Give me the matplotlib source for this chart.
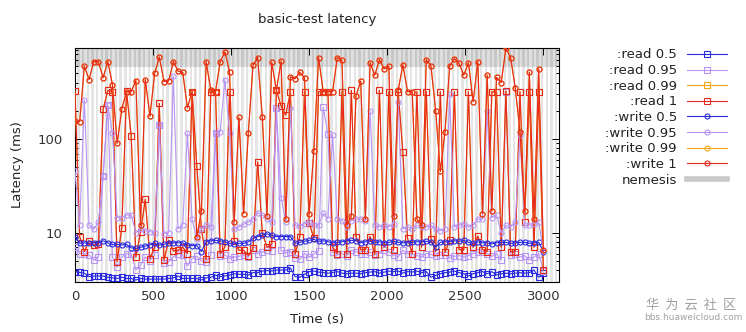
import matplotlib
matplotlib.use('Agg')
import matplotlib.pyplot as plt
from matplotlib.lines import Line2D
from matplotlib.ticker import FixedLocator, FixedFormatter, LogLocator, NullFormatter

plt.rcParams['font.family'] = ['DejaVu Sans']

times = [0, 30, 60, 90, 120, 150, 180, 210, 240, 270,
         300, 330, 360, 390, 420, 450, 480, 510, 540, 570,
         600, 630, 660, 690, 720, 750, 780, 810, 840, 870,
         900, 930, 960, 990, 1020, 1050, 1080, 1110, 1140, 1170,
         1200, 1230, 1260, 1290, 1320, 1350, 1380, 1410, 1440, 1470,
         1500, 1530, 1560, 1590, 1620, 1650, 1680, 1710, 1740, 1770,
         1800, 1830, 1860, 1890, 1920, 1950, 1980, 2010, 2040, 2070,
         2100, 2130, 2160, 2190, 2220, 2250, 2280, 2310, 2340, 2370,
         2400, 2430, 2460, 2490, 2520, 2550, 2580, 2610, 2640, 2670,
         2700, 2730, 2760, 2790, 2820, 2850, 2880, 2910, 2940, 2970,
         3000]

read_05 = [3.85, 3.77, 3.7, 3.4, 3.45, 3.45, 3.45, 3.35, 3.3, 3.25,
           3.35, 3.25, 3.25, 3.13, 3.25, 3.2, 3.2, 3.2, 3.2, 3.2,
           3.25, 3.3, 3.45, 3.25, 3.25, 3.25, 3.25, 3.13, 3.3, 3.34,
           3.53, 3.4, 3.45, 3.53, 3.65, 3.6, 3.6, 3.53, 3.75, 3.75,
           3.9, 3.95, 3.9, 4.0, 4.0, 4.0, 4.2, 3.4, 3.35, 3.6,
           3.85, 3.9, 3.8, 3.75, 3.7, 3.75, 3.85, 3.7, 3.65, 3.7,
           3.7, 3.65, 3.75, 3.8, 3.85, 3.7, 3.8, 3.9, 3.85, 3.9,
           3.7, 3.85, 3.8, 3.9, 3.75, 3.85, 3.35, 3.5, 3.65, 3.75,
           3.8, 3.9, 3.75, 3.65, 3.45, 3.65, 3.75, 3.85, 3.65, 3.84,
           3.55, 3.65, 3.7, 3.65, 3.7, 3.75, 3.7, 3.75, 4.0, 3.35,
           3.7]

read_095 = [7, 6.0, 6.0, 5.8, 5.1, 5.5, 40, 230, 5.5, 4.3,
            5.5, 6.0, 5.9, 4.0, 4.5, 5.5, 5.0, 5.8, 140, 4.8,
            4.9, 5.5, 6.0, 5.8, 4.4, 5.3, 5.6, 5.0, 4.9, 5.8,
            115, 5.6, 5.8, 5.3, 5.5, 5.6, 5.8, 5.5, 6.6, 6.0,
            6.2, 6.6, 6.4, 212, 6.5, 6.1, 6.3, 5.4, 5.2, 6.0,
            5.5, 5.9, 6.4, 218, 112, 6.2, 5.8, 6.0, 5.6, 6.5,
            6.3, 6.0, 5.9, 6.2, 5.8, 6.0, 6.5, 6.3, 5.8, 5.5,
            6.5, 6.0, 5.9, 5.7, 5.5, 6.0, 5.9, 5.6, 5.8, 5.8,
            5.4, 5.6, 5.7, 5.5, 5.7, 6.0, 6.2, 6.3, 6.0, 5.6,
            6.0, 5.1, 320, 5.8, 5.9, 5.5, 5.7, 5.1, 5.5, 6.0,
            3.9]

read_099 = [323, 9.1, 6.3, 8.2, 7.4, 7.5, 207, 330, 320, 4.9,
            11.3, 323, 108, 5.5, 10.2, 22.7, 5.3, 7, 240, 5.1,
            8.3, 6.4, 6.5, 7, 6, 320, 52, 10.9, 5.2, 320,
            320, 6, 7, 320, 8.2, 6.5, 6.5, 5.7, 6.8, 57,
            9.9, 7, 7.6, 330, 225, 180, 320, 5.9, 9.1, 320,
            12.7, 8.7, 320, 320, 320, 7, 6.0, 320, 5.9, 330,
            9.1, 6.6, 6.6, 9.1, 5.9, 330, 7, 320, 6.5, 320,
            72, 8.7, 6.0, 320, 7, 320, 8.5, 6.3, 320, 6.2,
            8.3, 320, 6.6, 6.5, 320, 7, 9.2, 6.6, 6.3, 320,
            315, 7, 325, 6.3, 6.3, 320, 13, 320, 7, 320,
            4.0]

read_1 = [323, 9.1, 6.3, 8.2, 7.4, 7.5, 207, 330, 320, 4.9,
          11.3, 323, 108, 5.5, 10.2, 22.7, 5.3, 7, 240, 5.1,
          8.3, 6.4, 6.5, 7, 6, 320, 52, 10.9, 5.2, 320,
          320, 6, 7, 320, 8.2, 6.5, 6.5, 5.7, 6.8, 57,
          9.9, 7, 7.6, 330, 225, 180, 320, 5.9, 9.1, 320,
          12.7, 8.7, 320, 320, 320, 7, 6.0, 320, 5.9, 330,
          9.1, 6.6, 6.6, 9.1, 5.9, 330, 7, 320, 6.5, 320,
          72, 8.7, 6.0, 320, 7, 320, 8.5, 6.3, 320, 6.2,
          8.3, 320, 6.6, 6.5, 320, 7, 9.2, 6.6, 6.3, 320,
          315, 7, 325, 6.3, 6.3, 320, 13, 320, 7, 320,
          4.0]

write_05 = [9.1, 7.7, 7.8, 7.7, 7.8, 7.8, 8.2, 7.8, 7.5, 7.5,
            7.4, 7.5, 6.9, 6.8, 7.0, 7.2, 7.4, 7.7, 7.4, 7.5,
            7.8, 7.8, 7.8, 7.8, 7.4, 7.3, 7.3, 6.3, 8.0, 8.2,
            8.3, 8.2, 8.0, 7.7, 7.6, 7.7, 7.7, 8.0, 8.7, 9.1,
            9.4, 9.7, 9.4, 9.1, 9.1, 9.1, 9.1, 7.7, 7.9, 8.1,
            8.3, 8.5, 8.1, 8.2, 8.0, 7.8, 7.9, 8.0, 8.2, 8.3,
            8.2, 7.8, 8.0, 8.1, 7.9, 8.0, 7.8, 7.9, 8.1, 7.9,
            7.8, 7.8, 7.9, 8.0, 8.0, 8.1, 8.0, 7.0, 7.9, 8.0,
            8.0, 8.2, 8.1, 8.3, 7.9, 7.7, 8.0, 7.8, 7.8, 7.6,
            7.8, 7.9, 7.9, 7.7, 7.8, 7.9, 7.9, 7.7, 7.8, 7.9,
            6.3]

write_095 = [45, 12.1, 260, 12.1, 10.9, 13, 40, 230, 115, 14.5,
             14.5, 15.5, 15.5, 10, 11, 10.5, 10.3, 10, 140, 9.8,
             10, 470, 11, 12, 115, 13.9, 8.5, 11, 12, 11.5,
             115, 120, 430, 115, 10.9, 11.5, 12.3, 13, 14, 16.3,
             15.5, 14, 13, 210, 23.6, 13, 213, 12, 11.8, 12.5,
             13, 12, 12, 16.1, 14, 110, 14, 13.5, 11.5, 13.5,
             14, 14, 13.5, 200, 12, 11.5, 12, 11.5, 12.5, 250,
             11, 11.5, 11, 12, 11.5, 11.5, 12, 11, 10.5, 11,
             300, 11.5, 12, 12.5, 11.5, 12, 14, 13.9, 200, 14.5,
             15.5, 9.9, 12, 11.5, 13, 110, 12, 12, 12.5, 13,
             6.4]

write_099 = [155, 153, 600, 430, 670, 670, 450, 670, 380, 90,
             210, 320, 320, 420, 12, 430, 175, 500, 750, 410,
             415, 670, 530, 515, 215, 320, 9, 17, 670, 330,
             320, 670, 850, 520, 13, 170, 16, 115, 610, 740,
             170, 15, 660, 330, 680, 14, 460, 440, 515, 450,
             16, 75, 740, 320, 320, 320, 740, 690, 12, 15,
             290, 415, 14, 650, 480, 700, 560, 600, 15, 330,
             620, 320, 320, 14, 12, 700, 600, 200, 45, 120,
             600, 720, 640, 480, 650, 250, 670, 16, 480, 17,
             455, 400, 935, 740, 350, 120, 17, 515, 14, 560,
             6.5]

write_1 = [155, 153, 600, 430, 670, 670, 450, 670, 380, 90,
           210, 320, 320, 420, 12, 430, 175, 500, 750, 410,
           415, 670, 530, 515, 215, 320, 9, 17, 670, 330,
           320, 670, 850, 520, 13, 170, 16, 115, 610, 740,
           170, 15, 660, 330, 680, 14, 460, 440, 515, 450,
           16, 75, 740, 320, 320, 320, 740, 690, 12, 15,
           290, 415, 14, 650, 480, 700, 560, 600, 15, 330,
           620, 320, 320, 14, 12, 700, 600, 200, 45, 120,
           600, 720, 640, 480, 650, 250, 670, 16, 480, 17,
           455, 400, 935, 740, 350, 120, 17, 515, 14, 560,
           6.5]

nemesis_start = [15, 45, 75, 105, 135, 165, 195, 225, 255, 285,
                 315, 345, 375, 405, 435, 465, 495, 525, 555, 585,
                 615, 645, 675, 705, 735, 765, 795, 825, 855, 885,
                 915, 945, 975, 1005, 1035, 1065, 1095, 1125, 1155, 1185,
                 1215, 1245, 1275, 1305, 1335, 1365, 1395, 1425, 1455, 1485,
                 1515, 1545, 1575, 1605, 1635, 1665, 1695, 1725, 1755, 1785,
                 1815, 1845, 1875, 1905, 1935, 1965, 1995, 2025, 2055, 2085,
                 2115, 2145, 2175, 2205, 2235, 2265, 2295, 2325, 2355, 2385,
                 2415, 2445, 2475, 2505, 2535, 2565, 2595, 2625, 2655, 2685,
                 2715, 2745, 2775, 2805, 2835, 2865, 2895, 2925, 2955, 2985,
                 3015, 3045, 3075]
nemesis_stop = [30, 60, 90, 120, 150, 180, 210, 240, 270, 300,
                330, 360, 390, 420, 450, 480, 510, 540, 570, 600,
                630, 660, 690, 720, 750, 780, 810, 840, 870, 900,
                930, 960, 990, 1020, 1050, 1080, 1110, 1140, 1170, 1200,
                1230, 1260, 1290, 1320, 1350, 1380, 1410, 1440, 1470, 1500,
                1530, 1560, 1590, 1620, 1650, 1680, 1710, 1740, 1770, 1800,
                1830, 1860, 1890, 1920, 1950, 1980, 2010, 2040, 2070, 2100,
                2130, 2160, 2190, 2220, 2250, 2280, 2310, 2340, 2370, 2400,
                2430, 2460, 2490, 2520, 2550, 2580, 2610, 2640, 2670, 2700,
                2730, 2760, 2790, 2820, 2850, 2880, 2910, 2940, 2970, 3000,
                3030, 3060, 3090]
nemesis_band_low = 590

x_ticks = [0, 500, 1000, 1500, 2000, 2500, 3000]
y_ticks = [10, 100]
y_tick_labels = ['10', '100']

BLUE = '#2a2ae0'
LAV = '#b894f4'
ORANGE = '#f0a818'
RED = '#e8281c'
GRAY = '#c8c8c8'

series = [
    (':read 0.5', read_05, BLUE, 's'),
    (':read 0.95', read_095, LAV, 's'),
    (':read 0.99', read_099, ORANGE, 's'),
    (':read 1', read_1, RED, 's'),
    (':write 0.5', write_05, BLUE, 'o'),
    (':write 0.95', write_095, LAV, 'o'),
    (':write 0.99', write_099, ORANGE, 'o'),
    (':write 1', write_1, RED, 'o'),
]

fig = plt.figure(figsize=(7.46, 3.32), dpi=100)
ax = fig.add_axes([75 / 746, 1 - 282 / 332, (559 - 75) / 746, (282 - 48) / 332])
ax.set_yscale('log')
ax.set_xlim(0, 3100)
ax.set_ylim(2.98, 935)

for s, e in zip(nemesis_start, nemesis_stop):
    ax.axvspan(s, e, color='black', alpha=0.1, lw=0, zorder=0)
ax.axhspan(nemesis_band_low, 935, color='black', alpha=0.13, lw=0, zorder=0)

handles = []
for i, (label, vals, col, mk) in enumerate(series):
    ms = 4.2 if mk == 's' else 3.6
    ln, = ax.plot(times, vals, color=col, lw=0.8, marker=mk, ms=ms,
                  mfc='none', mec=col, mew=0.8, zorder=2 + i, label=label)
    handles.append(ln)
handles.append(Line2D([], [], color=GRAY, lw=4, label='nemesis'))

ax.xaxis.set_major_locator(FixedLocator(x_ticks))
ax.yaxis.set_major_locator(FixedLocator(y_ticks))
ax.yaxis.set_major_formatter(FixedFormatter(y_tick_labels))
ax.yaxis.set_minor_locator(LogLocator(base=10, subs=(2, 3, 4, 5, 6, 7, 8, 9)))
ax.yaxis.set_minor_formatter(NullFormatter())
ax.tick_params(which='both', direction='in', top=True, right=True,
               labelsize=9.5, labelcolor='#333333', width=0.7)
ax.tick_params(which='major', length=5)
ax.tick_params(which='minor', length=2.5)
ax.tick_params(axis='y', pad=9)
ax.tick_params(axis='x', pad=6)
for sp in ax.spines.values():
    sp.set_linewidth(0.8)

fig.text(317 / 746, 1 - 20 / 332, 'basic-test latency', ha='center', va='center',
         fontsize=9.5, color='#222222')
fig.text(18 / 746, 1 - 165 / 332, 'Latency (ms)', ha='center', va='center',
         rotation=90, fontsize=9.5, color='#222222')
fig.text(317 / 746, 1 - 320 / 332, 'Time (s)', ha='center', va='center',
         fontsize=9.5, color='#222222')

fig.legend(handles=handles, loc='upper right', bbox_to_anchor=(727 / 746, 1 - 48.5 / 332),
           frameon=False, borderpad=0, borderaxespad=0, markerfirst=False,
           handlelength=3.0, handletextpad=0.8, labelspacing=0.2, numpoints=1,
           fontsize=9.5, labelcolor='#222222')

fig.text(691 / 746, 1 - 305 / 332, '华  为  云  社  区', ha='center', va='center',
         fontsize=9.5, color='#a0a0a0', family=['Noto Sans CJK SC', 'DejaVu Sans'])
fig.text(693 / 746, 1 - 318 / 332, 'bbs.huaweicloud.com', ha='center', va='center',
         fontsize=6.5, color='#a0a0a0')

fig.savefig('out.png', dpi=100)
